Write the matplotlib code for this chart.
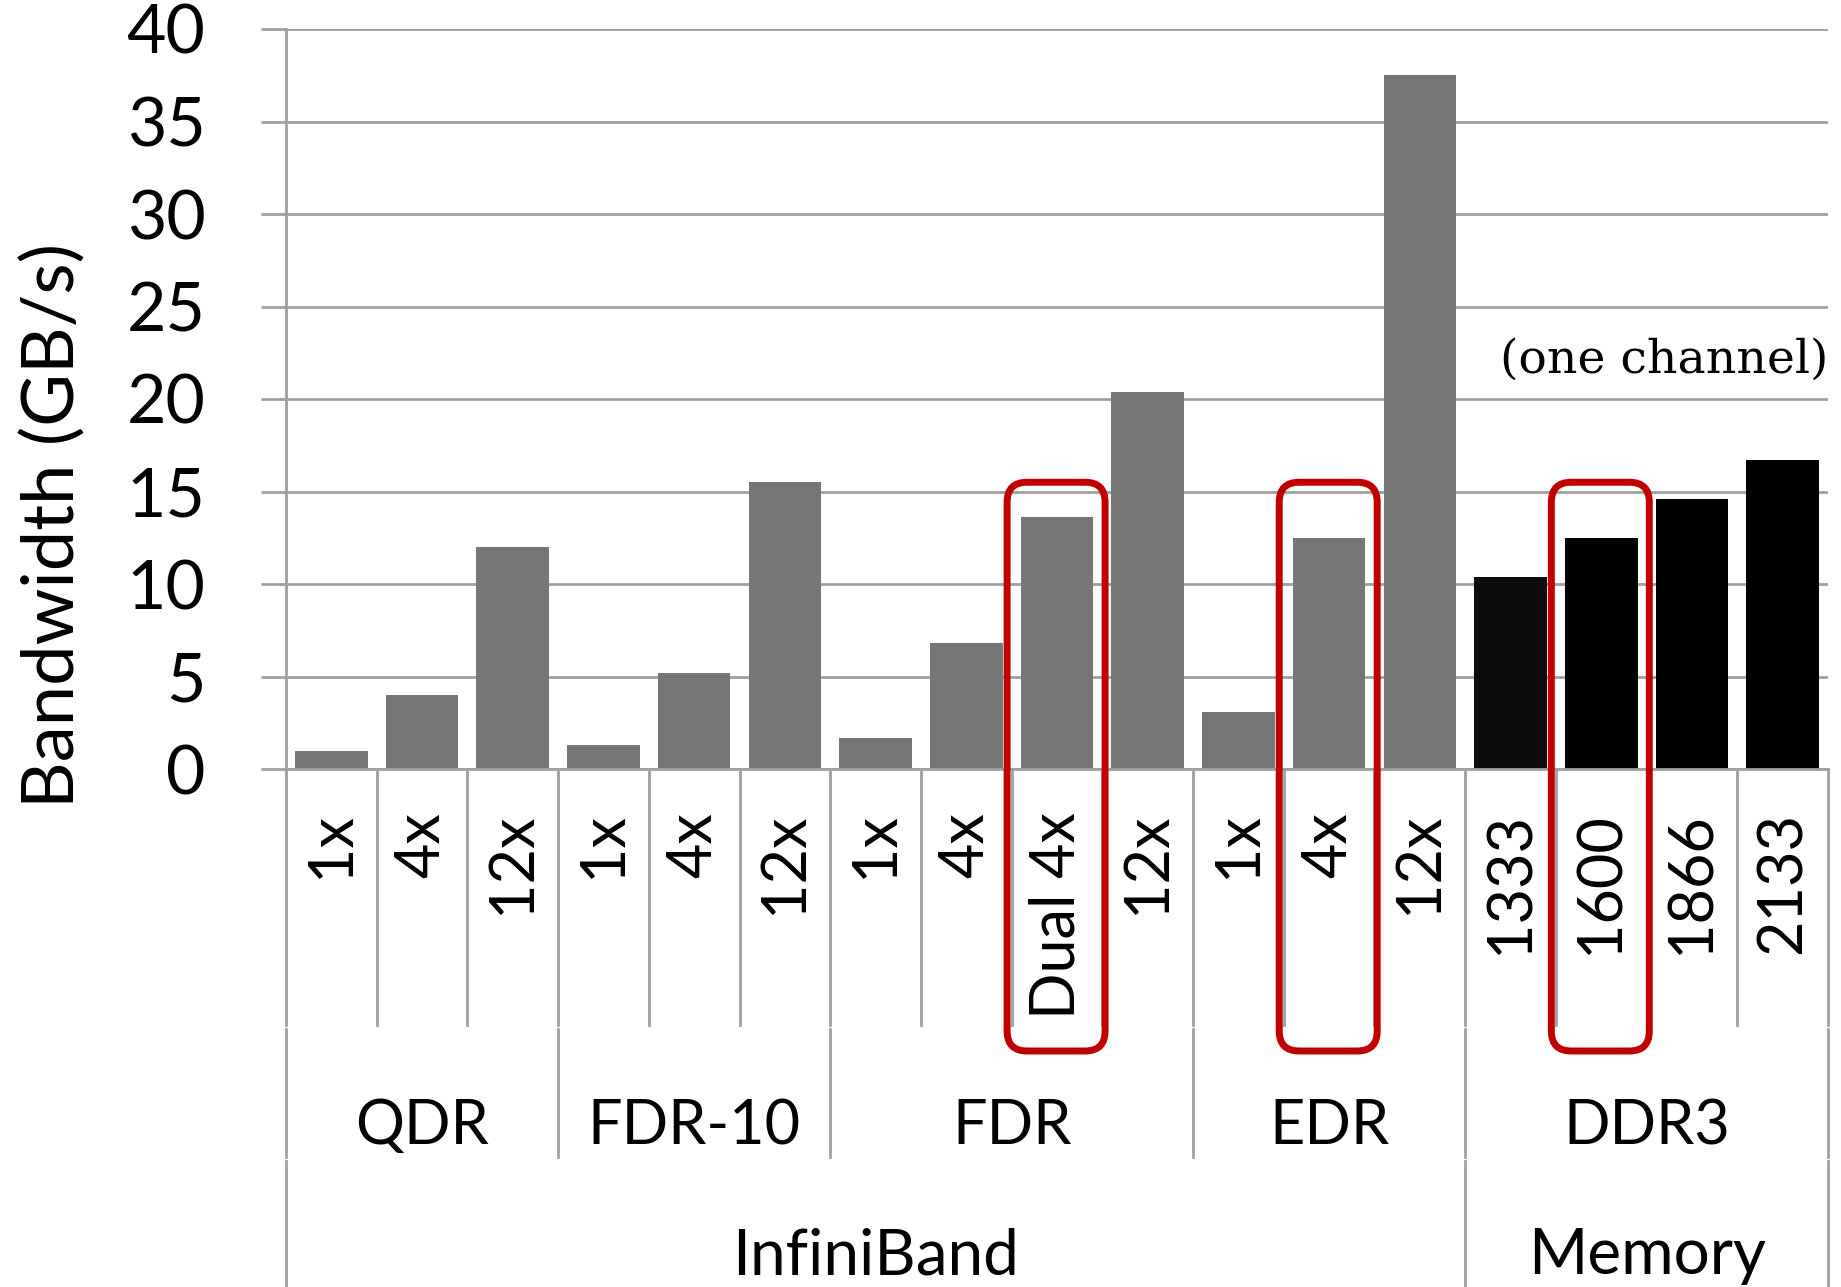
import matplotlib
matplotlib.use("Agg")
import matplotlib.pyplot as plt
from matplotlib.patches import FancyBboxPatch

plt.rcParams['font.family'] = ['Lato', 'DejaVu Sans']

categories = ["1x", "4x", "12x", "1x", "4x", "12x", "1x", "4x", "Dual 4x", "12x",
              "1x", "4x", "12x", "1333", "1600", "1866", "2133"]
bandwidth = [1.0, 4.0, 12.0, 1.29, 5.2, 15.5, 1.7, 6.8, 13.6, 20.4,
             3.1, 12.5, 37.5, 10.4, 12.5, 14.6, 16.7]
groups = ["QDR", "FDR-10", "FDR", "EDR", "DDR3"]
group_sizes = [3, 3, 4, 3, 4]
families = ["InfiniBand", "Memory"]
family_sizes = [13, 4]
highlighted = ["Dual 4x", "4x", "1600"]
highlighted_idx = [8, 11, 14]

GRID = '#a0a0a0'
GRAY = '#767676'
RED = '#c00000'

W, H = 1841, 1287
fig = plt.figure(figsize=(W / 100, H / 100), dpi=100)
x0, x1, ytop, ybot = 286, 1828, 29, 769
ax = fig.add_axes([x0 / W, 1 - ybot / H, (x1 - x0) / W, (ybot - ytop) / H])

n = len(categories)
xs = list(range(n))
colors = [GRAY] * family_sizes[0] + ['#0d0d0d'] + ['#000000'] * (family_sizes[1] - 1)
ax.bar(xs, bandwidth, width=0.8, color=colors, zorder=2)

ax.set_xlim(-0.5, n - 0.5)
ax.set_ylim(0, 40)
ax.set_yticks(range(0, 45, 5))
ax.set_xticks([])
ax.grid(axis='y', color=GRID, lw=2)
ax.set_axisbelow(True)
for s in ['top', 'right']:
    ax.spines[s].set_visible(False)
for s in ['left', 'bottom']:
    ax.spines[s].set_color(GRID)
    ax.spines[s].set_linewidth(2)
ax.tick_params(axis='y', length=18, width=2, color=GRID, pad=40, labelsize=49)

# pixel -> data helper for things below the axis
ppy = (ybot - ytop) / 40.0
ppx = (x1 - x0) / n


def ydata(px):
    return (ybot - px) / ppy


row1, row2, row3 = ydata(1027), ydata(1159), ydata(1287)

# category labels
for i, lab in enumerate(categories):
    ax.text(i, ydata(812), lab, rotation=90, ha='center', va='top',
            fontsize=44, clip_on=False)

# separators
group_edges = [0]
for g in group_sizes:
    group_edges.append(group_edges[-1] + g)
family_edges = [0]
for f in family_sizes:
    family_edges.append(family_edges[-1] + f)

for k in range(n + 1):
    xk = k - 0.5
    bottom = row1
    if k in group_edges:
        bottom = row2
    if k in family_edges:
        bottom = row3
    ax.plot([xk, xk], [0, row1 + 0.1], color=GRID, lw=2, clip_on=False, zorder=1)
    if bottom <= row2:
        ax.plot([xk, xk], [row1 - 0.1, row2 + 0.1], color=GRID, lw=2, clip_on=False, zorder=1)
    if bottom <= row3:
        ax.plot([xk, xk], [row2 - 0.1, row3], color=GRID, lw=2, clip_on=False, zorder=1)

# group labels
for g, a, b in zip(groups, group_edges[:-1], group_edges[1:]):
    ax.text((a + b - 1) / 2, ydata(1144), g, ha='center', va='baseline',
            fontsize=44, clip_on=False)
for f, a, b in zip(families, family_edges[:-1], family_edges[1:]):
    ax.text((a + b - 1) / 2, ydata(1274), f, ha='center', va='baseline',
            fontsize=46, clip_on=False)

# red highlight boxes
aspect = ppx / ppy
for i in highlighted_idx:
    left, right = i - 0.55, i + 0.53
    top, bot = 15.5, ydata(1051)
    box = FancyBboxPatch((left, bot), right - left, top - bot,
                         boxstyle="round,pad=0,rounding_size=0.22",
                         mutation_aspect=aspect, fill=False, ec=RED, lw=5,
                         clip_on=False, zorder=5)
    ax.add_patch(box)

ax.text(n - 0.5, 22.1, "(one channel)", ha='right', va='center',
        family='DejaVu Serif', fontsize=34)

fig.text(53 / W, 1 - 525 / H, "Bandwidth (GB/s)", rotation=90,
         ha='center', va='center', fontsize=52)

fig.savefig("out.png", dpi=100)
